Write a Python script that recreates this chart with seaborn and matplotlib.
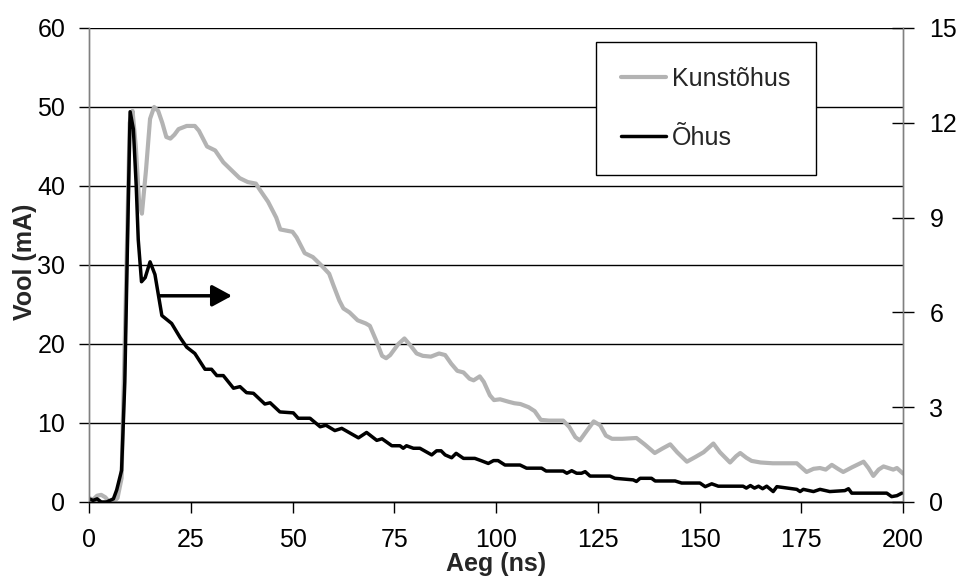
import matplotlib
matplotlib.use('Agg')
import matplotlib.pyplot as plt
import seaborn as sns
import pandas as pd

sns.set_style('white')
plt.rcParams['font.family'] = ['Liberation Sans', 'DejaVu Sans']

# Kunstõhus (left axis, mA)
kunst_t = [0, 1, 2, 3, 4, 5, 6, 7, 8, 9, 10, 10.7, 11.5, 12.3, 13, 14, 15, 16, 17, 18, 19, 20, 21, 22,
           24, 26, 27, 28, 29, 31, 33, 35, 37, 39, 41, 42, 44, 46, 47, 50, 51, 53, 55, 57, 59, 60,
           61.5, 62.5, 64, 66, 68, 69, 70.5, 72, 73, 74, 76, 77.5, 79, 80.5, 82, 84, 86, 87.5, 89,
           90.5, 92, 93.5, 94.5, 96, 97, 98.5, 99.5, 101, 103, 104.5, 106, 108, 109.5, 111, 113,
           116.5, 118, 119.5, 120.6, 122, 124, 125.6, 127, 128.5, 131, 134.5, 136.5, 139, 141,
           142.8, 144.5, 146.9, 149, 151, 153.4, 155, 157.5, 159, 160, 161.5, 162.8, 165, 168,
           171, 173.9, 175, 176.3, 178, 179.6, 181, 182.5, 184, 185.3, 187.5, 190.3, 191.5, 192.7,
           194, 195.2, 197.6, 198.5, 200]
kunst_ma = [0.5, 0.3, 0.8, 0.9, 0.6, 0.0, 0.0, 0.5, 3, 25, 48, 49.5, 45, 38, 36.5, 42, 48.5, 50, 49.5,
            48, 46.2, 46, 46.5, 47.2, 47.6, 47.6, 47, 46, 45, 44.5, 43, 42, 41, 40.5, 40.3, 39.5, 38,
            36, 34.5, 34.2, 33.5, 31.5, 31, 30, 28.9, 27.5, 25.5, 24.5, 24, 23, 22.6, 22.3, 20.5,
            18.5, 18.2, 18.6, 20, 20.7, 19.8, 18.8, 18.5, 18.4, 18.8, 18.6, 17.5, 16.6, 16.4, 15.6,
            15.4, 15.9, 15.2, 13.5, 12.9, 13, 12.7, 12.5, 12.4, 12.0, 11.5, 10.4, 10.3, 10.3, 9.5,
            8.2, 7.8, 8.8, 10.2, 9.7, 8.4, 8.0, 8.0, 8.1, 7.3, 6.2, 6.8, 7.3, 6.3, 5.1, 5.7, 6.3,
            7.4, 6.3, 5.0, 5.8, 6.2, 5.6, 5.2, 5.0, 4.9, 4.9, 4.9, 4.4, 3.8, 4.2, 4.3, 4.1, 4.7, 4.2,
            3.8, 4.4, 5.1, 4.3, 3.3, 4.1, 4.5, 4.1, 4.3, 3.6]

# Õhus (right axis)
ohus_t = [0, 1, 2, 3, 4.3, 6, 6.8, 8, 8.8, 9.5, 10.1, 10.9, 11.6, 12.1, 12.9, 13.8, 15, 16.2, 17.9,
          20.3, 22.4, 24, 26, 28.5, 30.1, 31.4, 33, 35.5, 37.1, 38.7, 40.4, 43.2, 44.5, 46.9, 50.2,
          51.4, 54.3, 56.8, 58.2, 60.4, 62.1, 66.2, 68.2, 70.7, 72, 74.4, 76.4, 77.2, 78, 79.7, 81.3,
          84.2, 85.4, 86.5, 87.5, 89.1, 90.2, 92, 94.8, 96.5, 98.1, 99.4, 100.5, 102.2, 105.9,
          107.5, 111.2, 112.3, 116.5, 117.4, 118.6, 119.8, 121, 121.9, 123.1, 128, 129.2, 133.7,
          134.5, 135.4, 138.2, 139.1, 144, 145.6, 150.1, 151.4, 153, 154.6, 158, 160.7, 161.5,
          162.5, 163.5, 164.5, 165.5, 166.5, 168.1, 169, 173.9, 174.7, 175.5, 178, 179.6, 182,
          185.7, 186.6, 187.4, 189, 196, 197.2, 198.5, 199.7]
ohus_v = [0.1, 0.05, 0.1, 0, 0, 0.1, 0.38, 1.0, 3.8, 8.5, 12.35, 11.8, 10, 8.3, 6.97, 7.1, 7.6, 7.2,
          5.9, 5.65, 5.2, 4.9, 4.7, 4.2, 4.2, 4.0, 4.0, 3.6, 3.65, 3.46, 3.44, 3.1, 3.14, 2.85, 2.82,
          2.65, 2.65, 2.38, 2.43, 2.26, 2.33, 2.03, 2.2, 1.95, 2.0, 1.78, 1.78, 1.7, 1.78, 1.7, 1.7,
          1.49, 1.62, 1.62, 1.49, 1.4, 1.54, 1.38, 1.38, 1.3, 1.22, 1.31, 1.31, 1.17, 1.17, 1.07,
          1.07, 0.98, 0.98, 0.91, 0.99, 0.91, 0.91, 0.96, 0.82, 0.82, 0.75, 0.7, 0.65, 0.75, 0.75,
          0.665, 0.665, 0.6, 0.6, 0.485, 0.575, 0.5, 0.5, 0.5, 0.44, 0.52, 0.44, 0.5, 0.42, 0.5,
          0.33, 0.485, 0.4, 0.33, 0.4, 0.33, 0.4, 0.33, 0.36, 0.42, 0.28, 0.28, 0.28, 0.17, 0.2,
          0.28]

x_ticks = [0, 25, 50, 75, 100, 125, 150, 175, 200]
left_ticks = [0, 10, 20, 30, 40, 50, 60]
right_ticks = [0, 3, 6, 9, 12, 15]

FS = 18

fig = plt.figure(figsize=(9.56, 5.77), dpi=100)
ax = fig.add_axes([0.0931, 0.13, 0.8515, 0.8215])
ax2 = ax.twinx()

df_k = pd.DataFrame({'t': kunst_t, 'v': kunst_ma})
df_o = pd.DataFrame({'t': ohus_t, 'v': ohus_v})
sns.lineplot(data=df_k, x='t', y='v', ax=ax, color='#b3b3b3', lw=3, legend=False)
sns.lineplot(data=df_o, x='t', y='v', ax=ax2, color='black', lw=2.5, legend=False)

ax.set_xlim(0, 200)
ax.set_ylim(0, 60)
ax2.set_ylim(0, 15)
ax.set_xticks(x_ticks)
ax.set_yticks(left_ticks)
ax2.set_yticks(right_ticks)

ax.yaxis.grid(True, color='black', lw=1)
ax.xaxis.grid(False)
ax.set_axisbelow(True)

for a in (ax, ax2):
    a.spines['top'].set_visible(False)
    a.spines['left'].set_color('#808080')
    a.spines['right'].set_color('#808080')
    a.spines['bottom'].set_color('black')
    for s in a.spines.values():
        s.set_linewidth(1)

ax.tick_params(axis='x', direction='out', length=8, width=1, labelsize=FS, pad=11, colors='black', bottom=True)
ax.tick_params(axis='y', direction='out', length=7, width=1, labelsize=FS, pad=10, colors='black', left=True)
ax2.tick_params(axis='y', direction='inout', length=16, width=1, labelsize=FS, pad=11, colors='black', right=True)

ax.set_xlabel('Aeg (ns)', fontsize=FS, fontweight='bold')
ax.set_ylabel('Vool (mA)', fontsize=FS, fontweight='bold')
ax2.set_ylabel('')
ax.xaxis.set_label_coords(0.5, -0.105)
ax.yaxis.set_label_coords(-0.064, 0.506)

ax.annotate('', xy=(0.1757, 0.435), xytext=(0.0875, 0.435), xycoords='axes fraction',
            arrowprops=dict(arrowstyle='-|>,head_length=0.48,head_width=0.26', color='black', lw=2.5,
                            mutation_scale=25, shrinkA=0, shrinkB=0))

h1 = plt.Line2D([], [], color='#b3b3b3', lw=3)
h2 = plt.Line2D([], [], color='black', lw=2.5)
leg = fig.legend([h1, h2], ['Kunstõhus', 'Õhus'], loc='upper left',
                 bbox_to_anchor=(0.6234, 0.9272), fontsize=FS, frameon=True, fancybox=False,
                 edgecolor='black', framealpha=1, handlelength=1.8, handletextpad=0.25,
                 labelspacing=1.4, borderpad=1.0, borderaxespad=0)
leg.get_frame().set_linewidth(1)

fig.savefig('out.png', dpi=100)
